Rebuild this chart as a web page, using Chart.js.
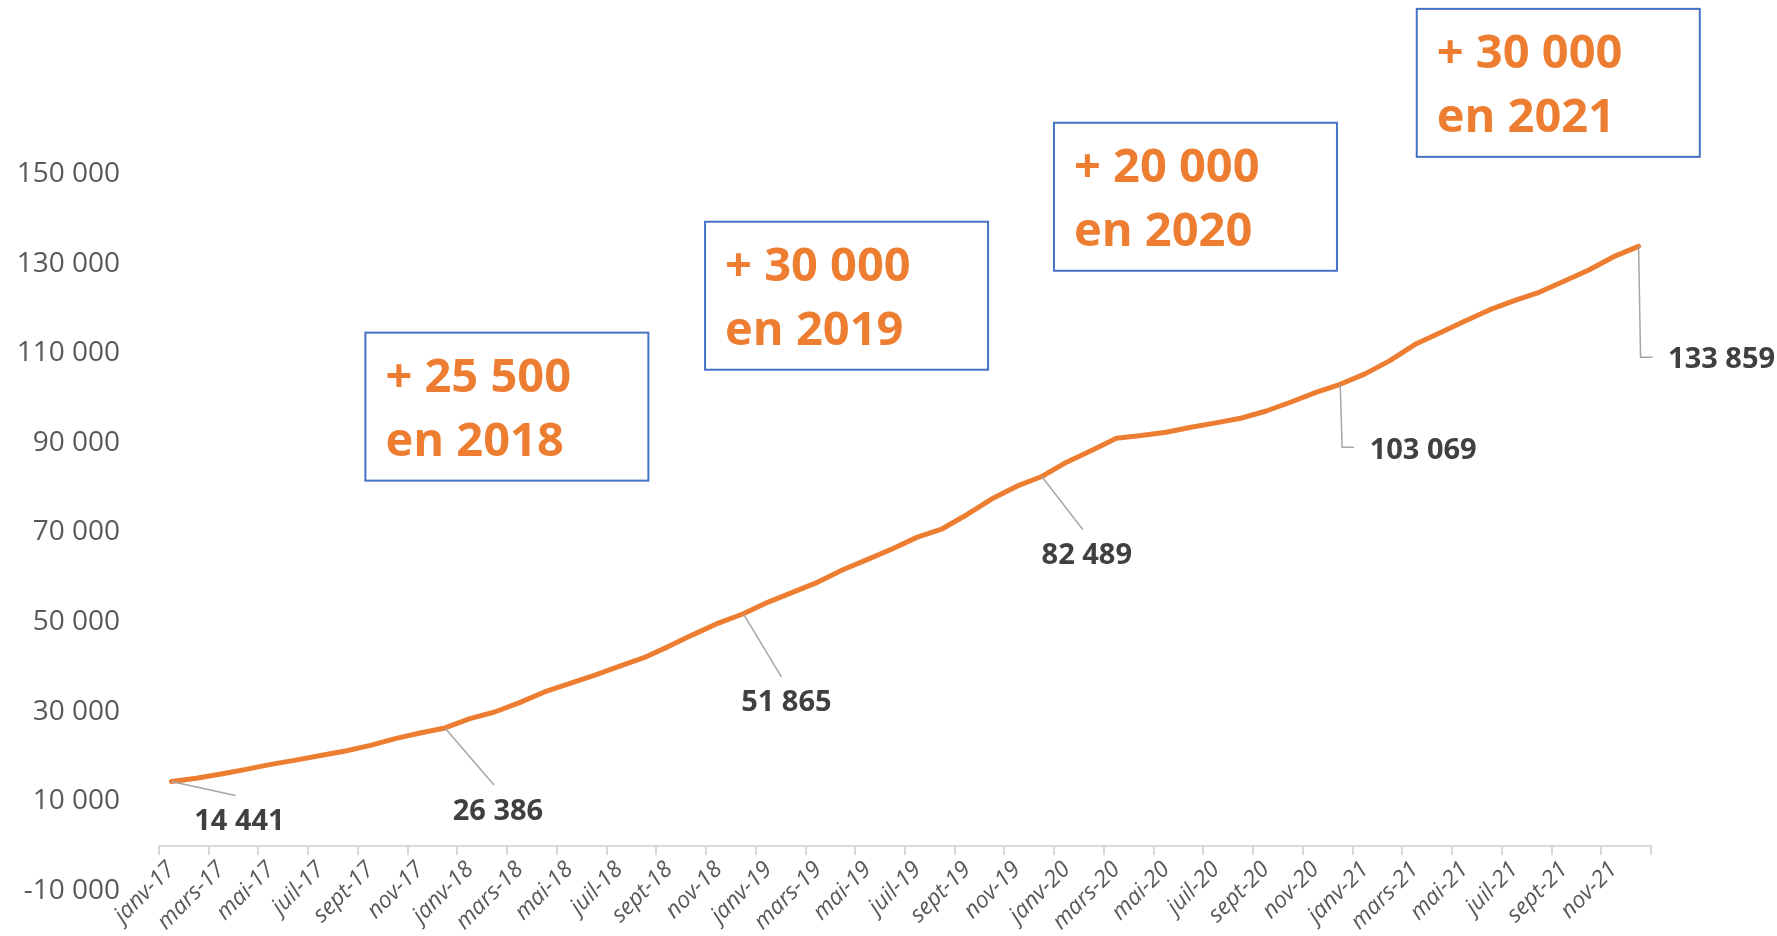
<!DOCTYPE html>
<html lang="fr">
<head>
  <meta charset="UTF-8">
  <title>Evolution mensuelle</title>
  <style>
    body {
      margin: 0;
      background: #ffffff;
    }

    #chartcontainer {
      position: relative;
      width: 1777px;
      height: 936px;
    }
  </style>
</head>
<body>
  <div id="chartcontainer">
    <canvas id="myChart"></canvas>
  </div>

  <script src="https://cdn.jsdelivr.net/npm/chart.js"></script>
  <script>
const monthNames = ['janv', 'févr', 'mars', 'avr', 'mai', 'juin', 'juil', 'août', 'sept', 'oct', 'nov', 'déc'];
const yearSuffixes = ['17', '18', '19', '20', '21'];

// valeurs mensuelles
const values2017 = [14441, 15150, 16100, 17150, 18250, 19200, 20250, 21250, 22500, 24000, 25250, 26386];
const values2018 = [28470, 29950, 32030, 34410, 36280, 38130, 40130, 42070, 44590, 47270, 49790, 51865];
const values2019 = [54470, 56700, 58930, 61690, 64000, 66370, 68970, 70830, 74020, 77520, 80340, 82489];
const values2020 = [85690, 88290, 91040, 91640, 92380, 93490, 94470, 95500, 97060, 99070, 101200, 103069];
const values2021 = [105400, 108360, 111930, 114530, 117130, 119660, 121740, 123600, 126050, 128580, 131550, 133859];

const yTicksMin = -10000;
const yTicksMax = 150000;
const yTicksStep = 20000;

// points qui portent une etiquette (janv-17 puis chaque decembre)
const labelledMonths = ['janv-17', 'déc-17', 'déc-18', 'déc-19', 'déc-20', 'déc-21'];

const boxTexts = [
  ['+ 25 500', 'en 2018'],
  ['+ 30 000', 'en 2019'],
  ['+ 20 000', 'en 2020'],
  ['+ 30 000', 'en 2021'],
];

const categories = yearSuffixes.flatMap(y => monthNames.map(m => m + '-' + y));
const seriesValues = [].concat(values2017, values2018, values2019, values2020, values2021);

function fmt(v) {
  return String(Math.round(v)).replace(/\B(?=(\d{3})+(?!\d))/g, ' ');
}

const pointLabels = {
  id: 'pointLabels',
  afterDatasetsDraw(chart, args, opts) {
    const meta = chart.getDatasetMeta(0);
    const ctx = chart.ctx;
    ctx.save();
    labelledMonths.forEach((m, i) => {
      const idx = categories.indexOf(m);
      const p = meta.data[idx];
      const s = opts.items[i];
      ctx.strokeStyle = '#a6a6a6';
      ctx.lineWidth = 1.5;
      ctx.beginPath();
      ctx.moveTo(p.x, p.y);
      s.path.forEach(([dx, dy]) => ctx.lineTo(p.x + dx, p.y + dy));
      ctx.stroke();
      ctx.font = 'bold 29px "Open Sans"';
      ctx.fillStyle = '#404040';
      ctx.textAlign = 'center';
      ctx.textBaseline = 'alphabetic';
      ctx.fillText(fmt(seriesValues[idx]), p.x + s.dx, p.y + s.dy);
    });
    ctx.restore();
  }
};

const yearBoxes = {
  id: 'yearBoxes',
  afterDraw(chart, args, opts) {
    const ctx = chart.ctx;
    const xs = chart.scales.x;
    const ys = chart.scales.y;
    ctx.save();
    opts.anchors.forEach((a, i) => {
      const left = xs.getPixelForValue(a.at);
      const top = ys.getPixelForValue(a.value);
      ctx.fillStyle = '#ffffff';
      ctx.fillRect(left, top, opts.width, opts.height);
      ctx.strokeStyle = '#4472C4';
      ctx.lineWidth = 2;
      ctx.strokeRect(left, top, opts.width, opts.height);
      ctx.font = 'bold 47px "Open Sans"';
      ctx.fillStyle = '#ED7D31';
      ctx.textAlign = 'left';
      ctx.textBaseline = 'alphabetic';
      ctx.fillText(boxTexts[i][0], left + 20, top + 59);
      ctx.fillText(boxTexts[i][1], left + 20, top + 123);
    });
    ctx.restore();
  }
};

Chart.defaults.font.family = "'Open Sans', sans-serif";

let chart;

function drawChart() {
  const ctx = document.getElementById('myChart').getContext('2d');

  chart = new Chart(ctx, {
    type: 'line',
    data: {
      labels: categories,
      datasets: [{
        data: seriesValues,
        borderColor: '#ED7D31',
        borderWidth: 5,
        borderJoinStyle: 'round',
        borderCapStyle: 'round',
        pointRadius: 0,
        fill: false,
        tension: 0,
      }],
    },
    options: {
      responsive: true,
      maintainAspectRatio: false,
      animation: false,
      layout: {
        padding: { top: 174, right: 126, bottom: 45, left: 0 }
      },
      plugins: {
        legend: { display: false },
        tooltip: { enabled: false },
        pointLabels: {
          items: [
            { path: [[64, 14]], dx: 68, dy: 49 },
            { path: [[49, 57]], dx: 53, dy: 92 },
            { path: [[38, 63]], dx: 43, dy: 97 },
            { path: [[41, 53]], dx: 45, dy: 87 },
            { path: [[2, 63], [14, 63]], dx: 83, dy: 75 },
            { path: [[2, 111], [14, 111]], dx: 83, dy: 122 },
          ]
        },
        yearBoxes: {
          width: 283,
          height: 148,
          anchors: [
            { at: 7.8, value: 114600 },
            { at: 21.46, value: 139350 },
            { at: 35.49, value: 161430 },
            { at: 50.08, value: 186850 },
          ]
        }
      },
      scales: {
        x: {
          position: { y: 0 },
          offset: true,
          border: { display: true, color: '#d9d9d9', width: 2 },
          grid: {
            display: true,
            offset: true,
            drawOnChartArea: false,
            drawTicks: true,
            tickLength: 8,
            lineWidth: 2,
            color: c => (c.index === undefined || c.index % 2 === 0) ? '#d9d9d9' : 'rgba(0,0,0,0)'
          },
          ticks: {
            autoSkip: false,
            minRotation: 45,
            maxRotation: 45,
            padding: 2,
            color: '#595959',
            font: { size: 23, style: 'italic' },
            callback: (v, i) => i % 2 === 0 ? categories[i] : ''
          }
        },
        y: {
          min: yTicksMin,
          max: yTicksMax,
          border: { display: false },
          // hidden tick marks only push the labels left of the plot
          grid: { display: false, drawTicks: true, tickLength: 35 },
          afterFit: s => { s.width = 159; },
          ticks: {
            stepSize: yTicksStep,
            padding: 4,
            color: '#595959',
            font: { size: 28 },
            callback: v => fmt(v)
          }
        }
      }
    },
    plugins: [pointLabels, yearBoxes]
  });
}

drawChart();
  </script>
</body>
</html>
